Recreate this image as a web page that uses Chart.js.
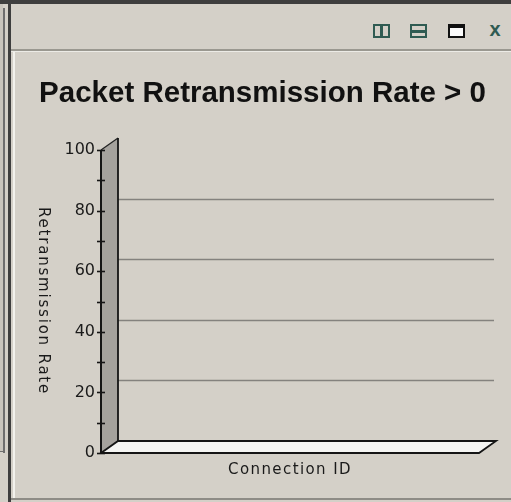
<!DOCTYPE html>
<html>
<head>
<meta charset="utf-8">
<script src="https://cdn.jsdelivr.net/npm/chart.js@4/dist/chart.umd.min.js"></script>
<style>
  html, body { margin: 0; padding: 0; }
  body { width: 511px; height: 502px; position: relative; overflow: hidden; background: #d4d0c8; }
  .ln { position: absolute; }
  .ico { position: absolute; box-sizing: border-box; }
  canvas { position: absolute; left: 0; top: 0; }
</style>
</head>
<body>
<!-- window frame -->
<div class="ln" style="left:0;top:0;width:511px;height:4px;background:#3e3e3e"></div>
<div class="ln" style="left:0;top:4px;width:3px;height:448px;background:#c9c5bd"></div>
<div class="ln" style="left:3px;top:8px;width:2px;height:445px;background:#6e6e6e"></div>
<div class="ln" style="left:0;top:451px;width:4px;height:1px;background:#6e6e6e"></div>
<div class="ln" style="left:8px;top:0;width:3px;height:502px;background:#3e3e3e"></div>
<div class="ln" style="left:11px;top:49px;width:500px;height:2px;background:#9a9890"></div>
<div class="ln" style="left:11px;top:51px;width:500px;height:1px;background:#ecebe6"></div>
<div class="ln" style="left:13px;top:52px;width:2px;height:446px;background:#f2f1ec"></div>
<div class="ln" style="left:11px;top:498px;width:500px;height:2px;background:#8e8c86"></div>

<!-- header buttons -->
<div class="ico" style="left:373px;top:24px;width:17px;height:14px;border:2.5px solid #2f5b52"></div>
<div class="ico" style="left:380px;top:24px;width:2.5px;height:14px;background:#2f5b52"></div>
<div class="ico" style="left:410px;top:24px;width:17px;height:14px;border:2.5px solid #2f5b52"></div>
<div class="ico" style="left:410px;top:30px;width:17px;height:2.5px;background:#2f5b52"></div>
<div class="ico" style="left:448px;top:24px;width:17px;height:14px;border:2.5px solid #111;border-top-width:4px;background:#fbfbfb"></div>
<div class="ico" style="left:486px;top:18px;width:18px;height:22px;font:bold 20px 'Liberation Sans', Arial, sans-serif;color:#2f5b52;text-align:center;line-height:22px">x</div>

<canvas id="retransChart" width="511" height="502"></canvas>

<script>
// Data
const connectionIds = [];          // no connections reported
const retransmissionRates = [];    // empty series
const yTickLabels = [0, 20, 40, 60, 80, 100];
const yMin = 0;
const yMax = 100;
const yMinorStep = 10;

const titleText = 'Packet Retransmission Rate > 0';
const xTitle = 'Connection ID';
const yTitle = 'Retransmission Rate';

// depth of the fake 3D box
const DX = 17;
const DY = -12;

const box3d = {
  id: 'box3d',
  afterDraw(chart) {
    const { ctx, chartArea: a, scales: { y } } = chart;
    const yTop = y.getPixelForValue(yMax);
    const yBot = y.getPixelForValue(yMin);
    ctx.save();

    // back wall grid lines
    ctx.strokeStyle = '#84827e';
    ctx.lineWidth = 1.6;
    yTickLabels.forEach(v => {
      if (v === yMin || v === yMax) return;
      const py = Math.round(y.getPixelForValue(v) + DY) + 0.5;
      ctx.beginPath();
      ctx.moveTo(a.left + DX, py);
      ctx.lineTo(a.right + DX - 2, py);
      ctx.stroke();
    });

    // side wall
    ctx.fillStyle = '#a5a29d';
    ctx.beginPath();
    ctx.moveTo(a.left, yTop);
    ctx.lineTo(a.left + DX, yTop + DY);
    ctx.lineTo(a.left + DX, yBot + DY);
    ctx.lineTo(a.left, yBot);
    ctx.closePath();
    ctx.fill();
    ctx.strokeStyle = '#222';
    ctx.lineWidth = 1.2;
    ctx.beginPath();
    ctx.moveTo(a.left, yTop);
    ctx.lineTo(a.left + DX, yTop + DY);
    ctx.stroke();

    // floor
    ctx.fillStyle = '#f5f5f3';
    ctx.beginPath();
    ctx.moveTo(a.left, yBot);
    ctx.lineTo(a.left + DX, yBot + DY);
    ctx.lineTo(a.right + DX, yBot + DY);
    ctx.lineTo(a.right, yBot);
    ctx.closePath();
    ctx.fill();
    ctx.strokeStyle = '#151515';
    ctx.lineWidth = 1.8;
    ctx.stroke();

    // back wall edge
    ctx.lineWidth = 1.8;
    ctx.beginPath();
    ctx.moveTo(a.left + DX, yTop + DY);
    ctx.lineTo(a.left + DX, yBot + DY);
    ctx.stroke();

    // front axis + ticks
    ctx.lineWidth = 2;
    ctx.beginPath();
    ctx.moveTo(a.left, yTop);
    ctx.lineTo(a.left, yBot);
    ctx.stroke();
    ctx.lineWidth = 1.6;
    for (let v = yMin; v <= yMax; v += yMinorStep) {
      const py = Math.round(y.getPixelForValue(v)) + 0.5;
      ctx.beginPath();
      ctx.moveTo(a.left - 4, py);
      ctx.lineTo(a.left + 4, py);
      ctx.stroke();
    }

    // chart title (drawn here so it is not squeezed to the padded box width)
    ctx.fillStyle = '#111';
    ctx.font = 'bold 29.5px "Liberation Sans", Arial, sans-serif';
    ctx.textAlign = 'center';
    ctx.textBaseline = 'alphabetic';
    ctx.fillText(titleText, 262.5, 102);

    // axis titles
    ctx.fillStyle = '#1a1a1a';
    ctx.font = '15px "DejaVu Sans", sans-serif';
    ctx.textBaseline = 'middle';
    ctx.letterSpacing = '1.4px';
    ctx.fillText(xTitle, (a.left + a.right) / 2, 470);

    ctx.letterSpacing = '1.8px';
    ctx.translate(43, 301);
    ctx.rotate(Math.PI / 2);
    ctx.fillText(yTitle, 0, 0);
    ctx.restore();
  }
};

new Chart(document.getElementById('retransChart'), {
  type: 'bar',
  data: {
    labels: connectionIds,
    datasets: [{
      label: yTitle,
      data: retransmissionRates,
      backgroundColor: '#3366cc'
    }]
  },
  options: {
    responsive: false,
    animation: false,
    layout: { padding: { left: 46, right: 32, top: 150, bottom: 0 } },
    plugins: {
      legend: { display: false },
      tooltip: { enabled: false },
      title: { display: false }
    },
    scales: {
      x: {
        grid: { display: false, drawTicks: false },
        border: { display: false },
        ticks: { display: false },
        afterFit(scale) { scale.height = 49; }
      },
      y: {
        min: yMin,
        max: yMax,
        grid: { display: false, drawTicks: false },
        border: { display: false },
        ticks: {
          stepSize: yMinorStep,
          padding: 6,
          color: '#1a1a1a',
          font: { family: '"DejaVu Sans", sans-serif', size: 16 },
          callback: v => (yTickLabels.includes(v) ? v : '')
        },
        afterFit(scale) { scale.width = 55; }
      }
    }
  },
  plugins: [box3d]
});
</script>
</body>
</html>
